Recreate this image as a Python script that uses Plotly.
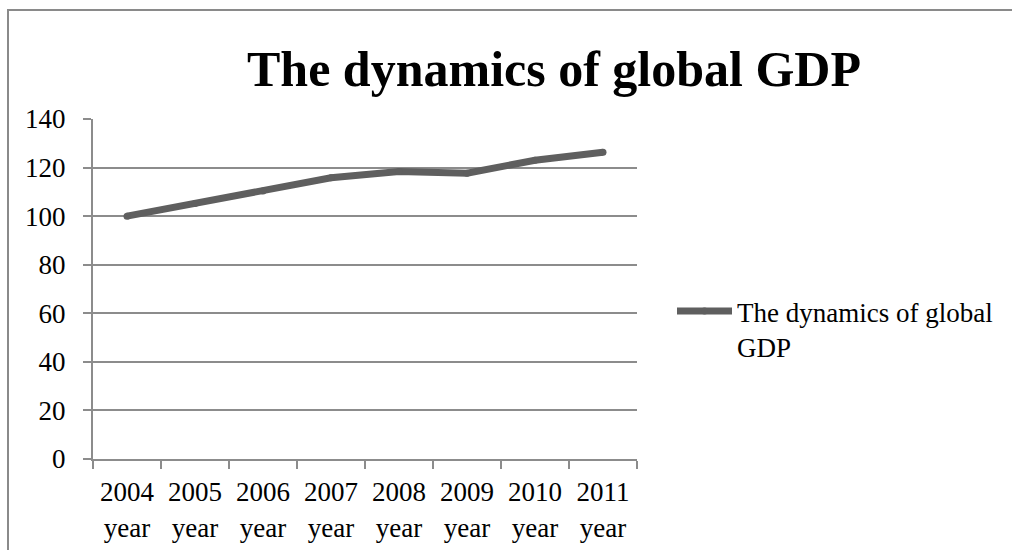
import plotly.graph_objects as go

# Global GDP index (2004 = 100)
years = ["2004", "2005", "2006", "2007", "2008", "2009", "2010", "2011"]
gdp_index = [100.0, 105.2, 110.4, 115.8, 118.4, 117.7, 123.0, 126.3]
y_ticks = [0, 20, 40, 60, 80, 100, 120, 140]

series_name = "The dynamics of global GDP"
categories = [f"{y}<br>year" for y in years]

FONT = "Liberation Serif"
GRID = "#8c8c8c"
LINE = "#5f5f5f"
TXT = 27

W, H = 1012, 550
L, R, T, B = 93, 375, 119, 91
pw, ph = W - L - R, H - T - B


def px_to_paper_x(px):
    return (px - L) / pw


def px_to_paper_y(py):
    return (H - B - py) / ph


fig = go.Figure()
fig.add_trace(go.Scatter(
    x=categories,
    y=gdp_index,
    mode="lines+markers",
    name="The dynamics of global<br>GDP",
    line=dict(color=LINE, width=7),
    marker=dict(color=LINE, size=7),
))

fig.update_layout(
    width=W, height=H,
    margin=dict(l=L, r=R, t=T, b=B),
    paper_bgcolor="white",
    plot_bgcolor="white",
    font=dict(family=FONT, size=TXT, color="black"),
    title=dict(
        text="<b>The dynamics of global GDP</b>",
        font=dict(family=FONT, size=50, color="black"),
        xref="paper", x=px_to_paper_x(554), xanchor="center",
        yref="container", y=1 - 68 / H, yanchor="middle",
    ),
    showlegend=True,
    legend=dict(
        x=px_to_paper_x(672), y=px_to_paper_y(287),
        xanchor="left", yanchor="top",
        valign="top",
        font=dict(family=FONT, size=TXT, color="black"),
        itemwidth=55,
        bgcolor="rgba(0,0,0,0)",
    ),
    xaxis=dict(
        type="category",
        range=[-0.5, len(years) - 0.5],
        tickson="boundaries",
        ticks="outside", ticklen=8, tickcolor=GRID, tickwidth=2,
        showline=True, linecolor=GRID, linewidth=2,
        showgrid=False,
        tickfont=dict(family=FONT, size=TXT),
        ticklabelstandoff=8,
        automargin=False,
    ),
    yaxis=dict(
        range=[0, 140],
        tickmode="array", tickvals=y_ticks,
        ticks="outside", ticklen=8, tickcolor=GRID, tickwidth=2,
        showline=True, linecolor=GRID, linewidth=2,
        showgrid=True, gridcolor=GRID, gridwidth=2,
        zeroline=False,
        tickfont=dict(family=FONT, size=TXT),
        ticklabelstandoff=12,
        automargin=False,
    ),
    shapes=[
        dict(
            type="rect", xref="paper", yref="paper",
            x0=px_to_paper_x(8), x1=px_to_paper_x(1030),
            y0=px_to_paper_y(580), y1=px_to_paper_y(10),
            line=dict(color="#8a8a8a", width=2),
            fillcolor="rgba(0,0,0,0)",
            layer="below",
        )
    ],
)

fig.write_html("out.html")
